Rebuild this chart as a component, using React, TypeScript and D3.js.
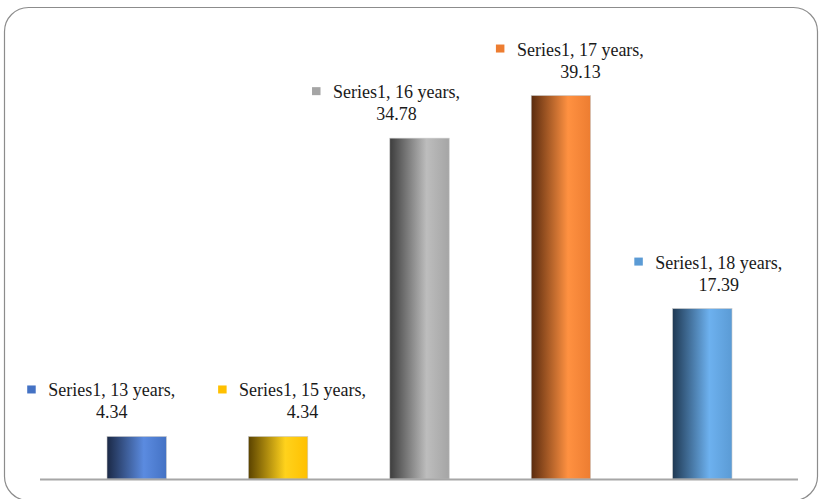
import React, { useEffect, useRef } from 'react';
import * as d3 from 'd3';

// chart data
const categories = ['13 years', '15 years', '16 years', '17 years', '18 years'];
const values = [4.34, 4.34, 34.78, 39.13, 17.39];
const seriesName = 'Series1';

// per-point colours: [dark edge, highlight, base]
const pointColors: [string, string, string][] = [
  ['#1b2946', '#5b8be0', '#4472c4'],
  ['#5a4200', '#ffd21c', '#ffc000'],
  ['#3d3d3d', '#bdbdbd', '#a5a5a5'],
  ['#5a2b0e', '#ff9141', '#ed7d31'],
  ['#1f3953', '#6db1ef', '#5b9bd5'],
];

// data label nudges (as placed in the original)
const labelShift = [-25, 24.5, -23, 19.5, 16.5];

const W = 819;
const H = 499;

export default function App() {
  const svgRef = useRef<SVGSVGElement>(null);

  useEffect(() => {
    if (!svgRef.current) return;
    const svg = d3.select(svgRef.current);
    svg.selectAll('*').remove();

    const baseY = 479;

    const x = d3.scaleBand<string>()
      .domain(categories)
      .range([66, 773])
      .paddingInner(0.58)
      .paddingOuter(0.29);

    const y = d3.scaleLinear()
      .domain([0, 45])
      .range([baseY, 38]);

    const defs = svg.append('defs');
    pointColors.forEach((c, i) => {
      const g = defs.append('linearGradient')
        .attr('id', `bar-grad-${i}`)
        .attr('x1', '0%').attr('x2', '100%')
        .attr('y1', '0%').attr('y2', '0%');
      g.append('stop').attr('offset', '0%').attr('stop-color', c[0]);
      g.append('stop').attr('offset', '62%').attr('stop-color', c[1]);
      g.append('stop').attr('offset', '100%').attr('stop-color', c[2]);
    });

    // outer frame
    svg.append('rect')
      .attr('x', 4.5)
      .attr('y', 7.5)
      .attr('width', 813)
      .attr('height', 493)
      .attr('rx', 24)
      .attr('fill', '#ffffff')
      .attr('stroke', '#8c8c8c')
      .attr('stroke-width', 1.2);

    // bars
    svg.append('g')
      .selectAll('rect')
      .data(values)
      .join('rect')
      .attr('x', (_, i) => x(categories[i])!)
      .attr('y', d => y(d))
      .attr('width', x.bandwidth())
      .attr('height', d => baseY - y(d))
      .attr('fill', (_, i) => `url(#bar-grad-${i})`)
      .attr('stroke', '#c8c8c8')
      .attr('stroke-width', 0.6);

    // category axis line
    svg.append('line')
      .attr('x1', 40)
      .attr('x2', 798)
      .attr('y1', baseY + 0.5)
      .attr('y2', baseY + 0.5)
      .attr('stroke', '#a6a6a6')
      .attr('stroke-width', 2.2);

    // data labels
    const labels = svg.append('g')
      .style('font-family', '"Liberation Serif", "Times New Roman", serif')
      .style('font-size', '18px')
      .attr('fill', '#1a1a1a');

    values.forEach((v, i) => {
      const cx = x(categories[i])! + x.bandwidth() / 2 + labelShift[i];
      const top = y(v);
      const line2 = top - 18;
      const line1 = line2 - 22;

      const t1 = labels.append('text')
        .attr('x', cx)
        .attr('y', line1)
        .attr('text-anchor', 'middle')
        .text(`${seriesName}, ${categories[i]},`);

      labels.append('text')
        .attr('x', cx)
        .attr('y', line2)
        .attr('text-anchor', 'middle')
        .text(v.toFixed(2));

      const w = (t1.node() as SVGTextElement).getComputedTextLength();
      labels.append('rect')
        .attr('x', cx - w / 2 - 21)
        .attr('y', line1 - 11)
        .attr('width', 8.5)
        .attr('height', 8)
        .attr('fill', pointColors[i][2]);
    });
  }, []);

  return (
    <svg
      ref={svgRef}
      width={W}
      height={H}
      style={{ position: 'absolute', left: 0, top: 0, display: 'block' }}
    ></svg>
  );
}
